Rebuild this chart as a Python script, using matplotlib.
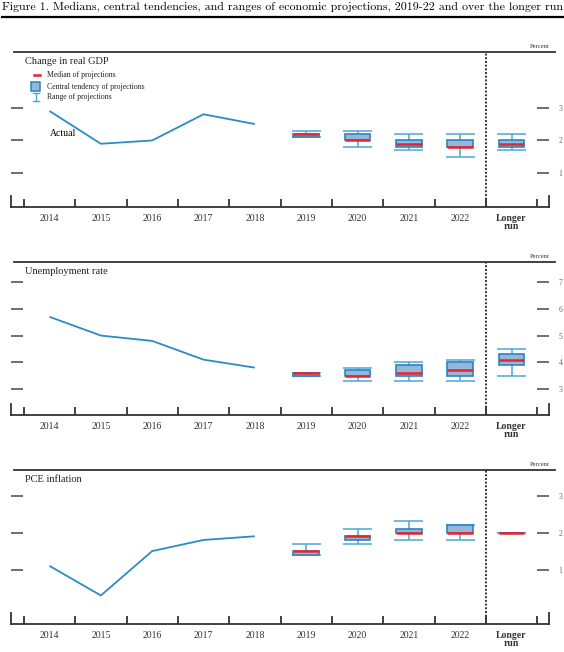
import matplotlib
matplotlib.use("Agg")
import matplotlib.pyplot as plt
from matplotlib.transforms import Affine2D
from matplotlib.patches import Rectangle
import numpy as np

# categories
years_hist = ["2014", "2015", "2016", "2017", "2018"]
years_proj = ["2019", "2020", "2021", "2022", "Longer\nrun"]
categories = years_hist + years_proj

# actual (historical) values
gdp_actual = [2.9, 1.9, 2.0, 2.8, 2.5]
ur_actual = [5.7, 5.0, 4.8, 4.1, 3.8]
pce_actual = [1.1, 0.3, 1.5, 1.8, 1.9]

# projections: median, central tendency low/high, range low/high
gdp_median = [2.2, 2.0, 1.9, 1.8, 1.9]
gdp_ct_low = [2.1, 2.0, 1.8, 1.8, 1.8]
gdp_ct_high = [2.2, 2.2, 2.0, 2.0, 2.0]
gdp_rng_low = [2.1, 1.8, 1.7, 1.5, 1.7]
gdp_rng_high = [2.3, 2.3, 2.2, 2.2, 2.2]

ur_median = [3.6, 3.5, 3.6, 3.7, 4.1]
ur_ct_low = [3.5, 3.5, 3.5, 3.5, 3.9]
ur_ct_high = [3.6, 3.7, 3.9, 4.0, 4.3]
ur_rng_low = [3.5, 3.3, 3.3, 3.3, 3.5]
ur_rng_high = [3.6, 3.8, 4.0, 4.1, 4.5]

pce_median = [1.5, 1.9, 2.0, 2.0, 2.0]
pce_ct_low = [1.4, 1.8, 2.0, 2.0, 2.0]
pce_ct_high = [1.5, 1.9, 2.1, 2.2, 2.0]
pce_rng_low = [1.4, 1.7, 1.8, 1.8, 2.0]
pce_rng_high = [1.7, 2.1, 2.3, 2.2, 2.0]

W, H = 564, 652
fig = plt.figure(figsize=(W / 100, H / 100), dpi=100)
px = Affine2D().scale(1 / W, -1 / H).translate(0, 1) + fig.transFigure

SERIF = "Liberation Serif"
LINE_BLUE = "#2b8cc4"
BOX_FILL = "#98b6d8"
BOX_EDGE = "#2a85c0"
WHISK = "#4ba6d6"
RED = "#e8232c"
TICK_GRAY = "#555555"

fig.text(2, 7, "Figure 1. Medians, central tendencies, and ranges of economic projections, 2019-22 and over the longer run",
         transform=px, fontfamily="cmr10", fontsize=8.6, va="center", ha="left")
fig.add_artist(plt.Line2D([2, 564], [17, 17], transform=px, color="black", lw=1.6))

panels = [
    dict(title="Change in real GDP", top=52, bot=207, ylim=(-0.03, 4.7), yt=[1, 2, 3],
         actual=gdp_actual, med=gdp_median, cl=gdp_ct_low, ch=gdp_ct_high, rl=gdp_rng_low, rh=gdp_rng_high),
    dict(title="Unemployment rate", top=262, bot=415, ylim=(2.03, 7.75), yt=[3, 4, 5, 6, 7],
         actual=ur_actual, med=ur_median, cl=ur_ct_low, ch=ur_ct_high, rl=ur_rng_low, rh=ur_rng_high),
    dict(title="PCE inflation", top=470, bot=624, ylim=(-0.47, 3.69), yt=[1, 2, 3],
         actual=pce_actual, med=pce_median, cl=pce_ct_low, ch=pce_ct_high, rl=pce_rng_low, rh=pce_rng_high),
]

x_hist = np.arange(len(years_hist))
x_proj = np.arange(len(years_hist), len(categories))
left_px, right_px = 11, 549

for k, p in enumerate(panels):
    ax = fig.add_axes([left_px / W, 1 - p["bot"] / H, (right_px - left_px) / W, (p["bot"] - p["top"]) / H])
    ax.set_xlim(-0.75, 9.73)
    ax.set_ylim(*p["ylim"])
    ax.set_facecolor("none")

    # spines: bottom axis plus short end marks
    for s in ["top"]:
        ax.spines[s].set_visible(False)
    ax.spines["bottom"].set_color("#333333")
    ax.spines["bottom"].set_linewidth(1.3)
    y0 = p["ylim"][0]
    dy = (p["ylim"][1] - p["ylim"][0]) * 11 / (p["bot"] - p["top"])
    for s in ["left", "right"]:
        ax.spines[s].set_bounds(y0, y0 + dy)
        ax.spines[s].set_color("#333333")
        ax.spines[s].set_linewidth(1.3)

    # x ticks at category boundaries, labels at centres
    ax.set_xticks(np.arange(-0.5, 10, 1.0))
    ax.set_xticklabels([])
    ax.tick_params(axis="x", which="major", direction="in", length=6, width=1.3, color="#333333")
    ax.set_xticks(np.arange(len(categories)), minor=True)
    ax.set_xticklabels(categories, minor=True, fontfamily=SERIF, fontsize=7, color="#333333")
    for lab in ax.get_xticklabels(minor=True)[-1:]:
        lab.set_fontweight("bold")
        lab.set_linespacing(0.9)
    ax.tick_params(axis="x", which="minor", length=0, pad=5)

    # y ticks as short dashes both sides, labels on right only
    ax.set_yticks(p["yt"])
    ax.set_yticklabels([str(v) for v in p["yt"]])
    ax.tick_params(axis="y", which="major", direction="in", length=8.5, width=1.2, color=TICK_GRAY,
                   left=True, right=True, labelleft=False, labelright=True,
                   labelsize=5.5, labelcolor="#666666", pad=7)
    for lab in ax.get_yticklabels():
        lab.set_fontfamily(SERIF)

    # top rule, "Percent"
    fig.add_artist(plt.Line2D([14, 555], [p["top"], p["top"]], transform=px, color="#333333", lw=1.3))
    fig.text(540, p["top"] - 5, "Percent", transform=px, fontfamily=SERIF, fontsize=4.8,
             ha="center", va="center", color="#333333")
    fig.text(25, p["top"] + 9, p["title"], transform=px, fontfamily=SERIF, fontsize=7.5,
             ha="left", va="center", color="#222222")

    # dotted divider before longer run
    ax.axvline(8.5, color="#333333", lw=1.4, linestyle=(0, (1.0, 0.9)))

    # actual line
    ax.plot(x_hist, p["actual"], color=LINE_BLUE, lw=1.3, solid_capstyle="butt")

    # projections
    med = np.array(p["med"]); cl = np.array(p["cl"]); ch = np.array(p["ch"])
    rl = np.array(p["rl"]); rh = np.array(p["rh"])
    ax.vlines(x_proj, rl, cl, color=WHISK, lw=1.1, zorder=2)
    ax.vlines(x_proj, ch, rh, color=WHISK, lw=1.1, zorder=2)
    ax.hlines(rl, x_proj - 0.28, x_proj + 0.28, color=WHISK, lw=1.1, zorder=2)
    ax.hlines(rh, x_proj - 0.28, x_proj + 0.28, color=WHISK, lw=1.1, zorder=2)
    ax.bar(x_proj, ch - cl, bottom=cl, width=0.5, facecolor=BOX_FILL, edgecolor=BOX_EDGE, lw=1.2, zorder=3)
    ax.hlines(med, x_proj - 0.25, x_proj + 0.25, color=RED, lw=1.8, zorder=4)

    if k == 0:
        fig.text(50, 134, "Actual", transform=px, fontfamily=SERIF, fontsize=7, ha="left", va="center")
        # legend
        fig.add_artist(plt.Line2D([34, 40], [75, 75], transform=px, color=RED, lw=1.8))
        fig.add_artist(Rectangle((31, 82), 9, 9, transform=px, facecolor=BOX_FILL, edgecolor=BOX_EDGE, lw=1.1))
        fig.add_artist(plt.Line2D([35.5, 35.5], [93, 101], transform=px, color=WHISK, lw=1.0))
        fig.add_artist(plt.Line2D([32.5, 38.5], [93, 93], transform=px, color=WHISK, lw=1.0))
        fig.add_artist(plt.Line2D([32.5, 38.5], [101, 101], transform=px, color=WHISK, lw=1.0))
        for yy, txt in [(75, "Median of projections"), (87, "Central tendency of projections"),
                        (97, "Range of projections")]:
            fig.text(47, yy, txt, transform=px, fontfamily=SERIF, fontsize=5.6, ha="left", va="center",
                     color="#222222")

fig.savefig("out.png", dpi=100)
